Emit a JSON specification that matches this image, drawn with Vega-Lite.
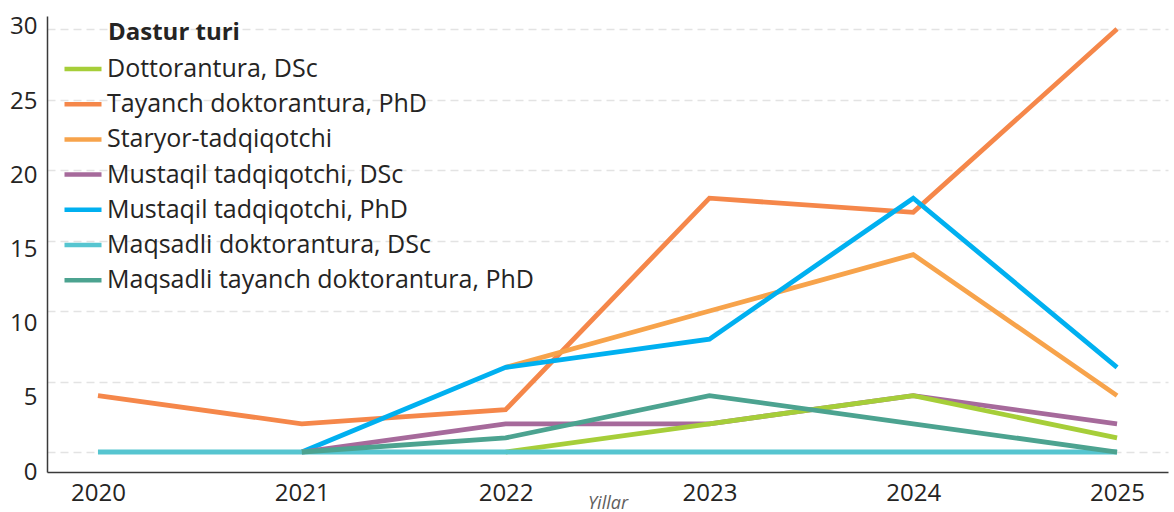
{
  "$schema": "https://vega.github.io/schema/vega-lite/v6.json",
  "autosize": {"type": "none"},
  "padding": {"left": 47, "top": 16, "right": 6, "bottom": 40},
  "width": 1121,
  "height": 456,
  "background": "white",
  "config": {
    "font": "Open Sans",
    "view": {"stroke": null},
    "axis": {"labelFont": "Open Sans", "labelColor": "#252423", "labelFontSize": 24}
  },
  "data": {
    "values": [
      {"series": "Tayanch doktorantura, PhD", "year": "2020", "value": 4},
      {"series": "Tayanch doktorantura, PhD", "year": "2021", "value": 2},
      {"series": "Tayanch doktorantura, PhD", "year": "2022", "value": 3},
      {"series": "Tayanch doktorantura, PhD", "year": "2023", "value": 18},
      {"series": "Tayanch doktorantura, PhD", "year": "2024", "value": 17},
      {"series": "Tayanch doktorantura, PhD", "year": "2025", "value": 30},
      {"series": "Staryor-tadqiqotchi", "year": "2022", "value": 6},
      {"series": "Staryor-tadqiqotchi", "year": "2023", "value": 10},
      {"series": "Staryor-tadqiqotchi", "year": "2024", "value": 14},
      {"series": "Staryor-tadqiqotchi", "year": "2025", "value": 4},
      {"series": "Mustaqil tadqiqotchi, PhD", "year": "2021", "value": 0},
      {"series": "Mustaqil tadqiqotchi, PhD", "year": "2022", "value": 6},
      {"series": "Mustaqil tadqiqotchi, PhD", "year": "2023", "value": 8},
      {"series": "Mustaqil tadqiqotchi, PhD", "year": "2024", "value": 18},
      {"series": "Mustaqil tadqiqotchi, PhD", "year": "2025", "value": 6},
      {"series": "Mustaqil tadqiqotchi, DSc", "year": "2021", "value": 0},
      {"series": "Mustaqil tadqiqotchi, DSc", "year": "2022", "value": 2},
      {"series": "Mustaqil tadqiqotchi, DSc", "year": "2023", "value": 2},
      {"series": "Mustaqil tadqiqotchi, DSc", "year": "2024", "value": 4},
      {"series": "Mustaqil tadqiqotchi, DSc", "year": "2025", "value": 2},
      {"series": "Dottorantura, DSc", "year": "2022", "value": 0},
      {"series": "Dottorantura, DSc", "year": "2023", "value": 2},
      {"series": "Dottorantura, DSc", "year": "2024", "value": 4},
      {"series": "Dottorantura, DSc", "year": "2025", "value": 1},
      {"series": "Maqsadli doktorantura, DSc", "year": "2020", "value": 0},
      {"series": "Maqsadli doktorantura, DSc", "year": "2021", "value": 0},
      {"series": "Maqsadli doktorantura, DSc", "year": "2022", "value": 0},
      {"series": "Maqsadli doktorantura, DSc", "year": "2023", "value": 0},
      {"series": "Maqsadli doktorantura, DSc", "year": "2024", "value": 0},
      {"series": "Maqsadli doktorantura, DSc", "year": "2025", "value": 0},
      {"series": "Maqsadli tayanch doktorantura, PhD", "year": "2021", "value": 0},
      {"series": "Maqsadli tayanch doktorantura, PhD", "year": "2022", "value": 1},
      {"series": "Maqsadli tayanch doktorantura, PhD", "year": "2023", "value": 4},
      {"series": "Maqsadli tayanch doktorantura, PhD", "year": "2024", "value": 2},
      {"series": "Maqsadli tayanch doktorantura, PhD", "year": "2025", "value": 0}
    ]
  },
  "resolve": {"scale": {"y": "independent"}, "axis": {"y": "independent"}},
  "layer": [
    {
      "mark": {"type": "line", "strokeWidth": 4.8},
      "encoding": {
        "x": {
          "field": "year", "type": "ordinal",
          "scale": {"type": "point", "padding": 0.25},
          "axis": {
            "title": "Yillar", "titleFont": "Open Sans", "titleFontSize": 18, "titleFontStyle": "italic",
            "titleFontWeight": "normal", "titleColor": "#605E5C", "titleBaseline": "alphabetic", "titleY": 36,
            "labelAngle": 0, "labelPadding": 9, "ticks": false,
            "domainColor": "#3a3a3a", "domainWidth": 1.5, "grid": false
          }
        },
        "y": {
          "field": "value", "type": "quantitative",
          "scale": {"domain": [-1.418, 30.922], "nice": false, "zero": false},
          "axis": {
            "orient": "left", "title": null, "labels": false, "ticks": false, "domain": false,
            "values": [0, 5, 10, 15, 20, 25, 30],
            "grid": true, "gridColor": "#E3E3E3", "gridWidth": 1.5, "gridDash": [8, 5]
          }
        },
        "color": {
          "field": "series", "type": "nominal",
          "scale": {
            "domain": ["Dottorantura, DSc", "Tayanch doktorantura, PhD", "Staryor-tadqiqotchi", "Mustaqil tadqiqotchi, DSc", "Mustaqil tadqiqotchi, PhD", "Maqsadli doktorantura, DSc", "Maqsadli tayanch doktorantura, PhD"],
            "range": ["#A6CE39", "#F5874A", "#F7A34B", "#A66A9B", "#00B0F0", "#56C5D0", "#4CA390"]
          },
          "legend": {
            "title": "Dastur turi", "orient": "none", "legendX": 61, "legendY": 5,
            "titleFont": "Open Sans", "titleFontSize": 24, "titleFontWeight": "bold", "titleColor": "#252423",
            "titlePadding": 3,
            "labelFont": "Open Sans", "labelFontSize": 25, "labelColor": "#252423", "labelLimit": 700,
            "symbolType": "stroke", "symbolSize": 1369, "symbolStrokeWidth": 4.5,
            "symbolOffset": -46, "labelOffset": 3, "rowPadding": 1.2
          }
        }
      }
    },
    {
      "mark": {"type": "point", "opacity": 0},
      "encoding": {
        "x": {"field": "year", "type": "ordinal"},
        "y": {
          "field": "value", "type": "quantitative",
          "scale": {"domain": [0, 30.74], "nice": false, "zero": false},
          "axis": {
            "orient": "left", "title": null, "values": [0, 5, 10, 15, 20, 25, 30],
            "grid": false, "ticks": false, "labelPadding": 10,
            "domainColor": "#3a3a3a", "domainWidth": 1.5
          }
        }
      }
    }
  ]
}
